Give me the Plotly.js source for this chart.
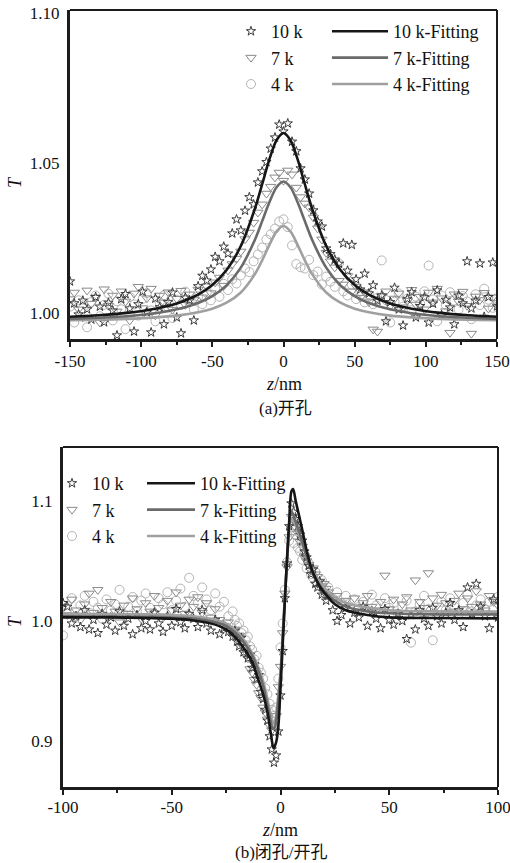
<!DOCTYPE html>
<html><head><meta charset="utf-8">
<script src="https://cdn.plot.ly/plotly-3.0.1.min.js"></script>
<style>html,body{margin:0;padding:0;background:#fff;}#chart{width:510px;height:863px;}</style>
</head><body><div id="chart"></div>
<script>
// ---------- (a) open aperture ----------
const zOpen = [-150,-147,-144,-141,-138,-135,-132,-129,-126,-123,
-120,-117,-114,-111,-108,-105,-102,-99,-96,-93,
-90,-87,-84,-81,-78,-75,-72,-69,-66,-63,
-60,-57,-54,-51,-48,-45,-42,-39,-36,-33,
-30,-27,-24,-21,-18,-15,-12,-9,-6,-3,
0,
3,6,9,12,15,18,21,24,27,30,
33,36,39,42,45,48,51,54,57,60,
63,66,69,72,75,78,81,84,87,90,
93,96,99,102,105,108,111,114,117,120,
123,126,129,132,135,138,141,144,147,150];
const open10k = [1.0105,1.0032,0.9995,1.0041,1.0012,0.9978,1.0053,1.0021,0.9969,1.0034,
1.0008,0.9925,1.0046,1.0063,1.0015,0.9938,1.0029,1.0071,1.0002,0.9935,
1.0048,1.0019,0.9962,1.0036,1.0068,0.9985,0.9932,1.0051,1.0042,0.9975,
1.0089,1.0124,1.0108,1.0145,1.0187,1.0172,1.0221,1.0198,1.0265,1.0312,
1.0275,1.0341,1.0386,1.0362,1.0435,1.0472,1.0503,1.0548,1.0585,1.0628,
1.0605,
1.0632,1.0571,1.0539,1.0482,1.0445,1.0398,1.0342,1.0305,1.0288,1.0215,
1.0196,1.0178,1.0164,1.0232,1.0141,1.0227,1.0112,1.0078,1.0131,1.0065,
1.0092,1.0041,1.0058,0.9972,1.0036,1.0084,1.0012,0.9958,1.0047,1.0069,
0.9985,1.0023,1.0052,0.9968,1.0031,1.0075,0.9992,1.0044,1.0018,0.9962,
1.0058,1.0032,1.0172,1.0015,1.0041,1.0165,0.9987,1.0053,1.0168,1.0022];
const open7k = [1.0046,1.0068,1.0012,0.9985,1.0075,1.0031,1.0052,0.9968,1.0079,1.0024,
1.0058,1.0005,1.0072,1.0038,0.9975,1.0065,1.0087,1.0016,1.0049,1.0081,
0.9992,1.0058,1.0035,1.0069,1.0011,1.0047,1.0074,1.0027,1.0062,1.0043,
1.0078,1.0052,1.0089,1.0066,1.0102,1.0118,1.0091,1.0142,1.0163,1.0181,
1.0205,1.0246,1.0268,1.0301,1.0335,1.0362,1.0398,1.0421,1.0452,1.0468,
1.0441,
1.0475,1.0462,1.0418,1.0386,1.0365,1.0352,1.0318,1.0282,1.0245,1.0201,
1.0172,1.0152,1.0107,1.0095,1.0123,1.0072,1.0088,1.0051,1.0069,1.0036,
0.9945,0.9938,1.0056,1.0072,1.0023,1.0048,1.0065,1.0019,1.0041,1.0077,
1.0028,1.0054,1.0012,1.0068,1.0035,1.0081,1.0049,1.0006,0.9934,1.0062,
1.0038,1.0071,1.0024,0.9931,1.0055,1.0043,1.0067,1.0015,1.0052,1.0033];
const open4k = [1.0021,0.9968,1.0042,1.0015,0.9952,1.0036,1.0058,0.9989,1.0027,1.0064,
0.9975,1.0039,1.0012,0.9946,1.0053,1.0028,0.9991,1.0047,1.0066,1.0008,
0.9972,1.0035,1.0059,1.0018,0.9983,1.0044,1.0026,1.0071,1.0038,1.0012,
1.0055,1.0029,1.0068,1.0042,1.0081,1.0054,1.0097,1.0076,1.0112,1.0098,
1.0125,1.0148,1.0136,1.0172,1.0195,1.0218,1.0245,1.0262,1.0281,1.0305,
1.0312,
1.0286,1.0225,1.0163,1.0152,1.0148,1.0177,1.0126,1.0138,1.0095,1.0121,
1.0104,1.0087,1.0165,1.0072,1.0058,1.0094,1.0046,1.0071,1.0035,1.0062,
1.0029,1.0051,1.0175,1.0043,0.9968,1.0037,1.0065,1.0021,1.0048,1.0009,
1.0054,1.0031,1.0072,1.0158,1.0045,0.9972,1.0058,1.0027,1.0069,1.0041,
1.0012,1.0056,1.0038,0.9979,1.0062,1.0026,1.0081,1.0044,1.0017,1.0049];
const zOpenFit = [-150,-130,-110,-90,-75,-60,-50,-40,-30,-20,-15,-10,-5,0,5,10,15,20,30,40,50,60,75,90,110,130,150];
const fitOpen10k = [0.9987,0.9992,1.0000,1.0014,1.0031,1.0061,1.0093,1.0143,1.0223,1.0349,1.0429,1.0511,1.0575,1.0600,1.0575,1.0511,1.0429,1.0349,1.0223,1.0143,1.0093,1.0061,1.0031,1.0014,1.0000,0.9992,0.9987];
const fitOpen7k = [0.9980,0.9984,0.9989,0.9999,1.0012,1.0033,1.0056,1.0092,1.0151,1.0245,1.0306,1.0368,1.0418,1.0438,1.0418,1.0368,1.0306,1.0245,1.0151,1.0092,1.0056,1.0033,1.0012,0.9999,0.9989,0.9984,0.9980];
const fitOpen4k = [0.9976,0.9977,0.9980,0.9985,0.9991,1.0002,1.0014,1.0034,1.0068,1.0130,1.0175,1.0226,1.0271,1.0290,1.0271,1.0226,1.0175,1.0130,1.0068,1.0034,1.0014,1.0002,0.9991,0.9985,0.9980,0.9977,0.9976];

// ---------- (b) closed / open ----------
const zClosed = [-100,-98,-96,-94,-92,-90,-88,-86,-84,-82,
-80,-78,-76,-74,-72,-70,-68,-66,-64,-62,
-60,-58,-56,-54,-52,-50,-48,-46,-44,-42,
-40,-38,-36,-34,-32,-30,-28,-26,-24,-22,
-21,-20,-19,-18,-17,-16,-15,-14,-13,-12,
-11,-10,-9,-8,-7,-6,-5,-4,-3,-2,
-1,0,1,2,3,4,5,6,7,8,
9,10,11,12,13,14,15,16,17,18,
19,20,21,22,24,26,28,30,32,34,
36,38,40,42,44,46,48,50,52,54,
56,58,60,62,64,66,68,70,72,74,
76,78,80,82,84,86,88,90,92,94,
96,98,100];
const closed10k = [1.015,1.012,0.998,1.004,0.995,1.009,0.993,1.001,0.990,1.006,
0.997,1.003,0.992,1.008,0.996,1.002,0.989,1.005,0.994,1.000,
0.993,1.007,0.998,0.991,1.004,0.996,1.010,0.999,0.994,1.006,
1.002,0.995,1.009,0.998,0.992,1.001,0.989,0.994,0.991,0.987,
0.992,0.983,0.979,0.986,0.974,0.978,0.969,0.972,0.961,0.964,
0.952,0.955,0.941,0.935,0.926,0.917,0.904,0.893,0.882,0.888,
0.908,0.938,0.975,1.019,1.048,1.079,1.098,1.091,1.085,1.079,
1.072,1.067,1.058,1.053,1.046,1.039,1.043,1.031,1.028,1.033,
1.022,1.025,1.017,1.021,1.009,1.000,1.005,1.011,0.998,1.007,
1.003,1.012,0.996,1.008,1.002,0.994,1.010,1.001,0.997,1.006,
1.000,0.985,1.005,0.993,1.009,1.002,0.996,1.011,1.004,0.998,
1.007,1.015,1.001,1.009,0.995,1.028,1.006,1.031,1.012,1.004,
0.994,1.018,1.003];
const closed7k = [1.012,1.005,1.018,1.009,1.001,1.014,1.023,1.007,1.026,1.011,
1.004,1.016,1.008,0.999,1.013,1.006,1.019,1.010,1.002,1.015,
1.008,1.021,1.011,1.004,1.017,1.009,1.024,1.013,1.006,1.018,
1.012,1.020,1.007,1.015,1.003,1.010,1.001,0.996,0.999,0.990,
0.993,0.986,0.988,0.981,0.978,0.972,0.969,0.960,0.957,0.951,
0.947,0.940,0.936,0.928,0.924,0.918,0.913,0.909,0.914,0.921,
0.945,0.962,0.990,1.023,1.045,1.070,1.087,1.084,1.078,1.073,
1.066,1.062,1.054,1.050,1.047,1.042,1.044,1.039,1.037,1.033,
1.029,1.031,1.027,1.024,1.018,1.021,1.014,1.017,1.011,1.019,
1.008,1.015,1.021,1.012,1.009,1.016,1.038,1.010,1.018,1.007,
1.014,1.020,1.009,1.034,1.016,1.011,1.040,1.019,1.013,1.022,
1.015,1.008,1.017,1.023,1.010,1.019,1.012,1.025,1.014,1.009,
1.021,1.016,1.013];
const closed4k = [0.988,1.010,1.019,1.004,1.013,1.021,1.007,1.016,1.011,1.002,
1.018,1.009,1.014,1.026,1.005,1.012,1.020,1.008,1.017,1.023,
1.011,1.006,1.019,1.014,1.024,1.009,1.017,1.027,1.012,1.036,
1.021,1.015,1.028,1.018,1.009,1.023,1.012,1.016,1.004,1.008,
1.001,0.996,0.998,0.990,0.992,0.984,0.987,0.979,0.976,0.968,
0.971,0.961,0.957,0.952,0.944,0.939,0.931,0.926,0.921,0.928,
0.952,0.978,0.998,1.026,1.049,1.067,1.078,1.065,1.072,1.061,
1.058,1.051,1.055,1.044,1.048,1.039,1.036,1.041,1.032,1.029,
1.034,1.026,1.022,1.028,1.019,1.024,1.015,1.021,1.012,1.018,
1.010,1.016,1.009,1.022,1.013,1.007,1.019,1.011,1.015,1.006,
1.012,1.017,0.982,1.008,1.014,1.021,1.010,0.984,1.005,1.016,
1.009,1.019,1.012,1.006,1.015,1.022,1.008,1.013,1.018,1.010,
1.016,1.011,1.020];
const zClosedFit10k = [-100,-80,-60,-50,-40,-30,-25,-20,-16,-13,-10,-8,-6,-4.5,-3.2,-2,-1,0,1,2,3,4,5,5.8,7,8.5,10,12,14,16,18,20,25,30,40,50,70,100];
const fitClosed10k = [1.003,1.003,1.0025,1.002,1.0005,0.997,0.993,0.985,0.975,0.966,0.950,0.939,0.924,0.907,0.894,0.899,0.912,0.944,0.980,1.016,1.052,1.083,1.108,1.110,1.100,1.088,1.076,1.059,1.045,1.036,1.029,1.024,1.014,1.009,1.005,1.003,1.0025,1.0022];
const zClosedFit = [-100,-60,-40,-30,-25,-20,-16,-13,-10.5,-8,-6,-4.5,-3.5,-2.5,-1.5,0,1,2,3,4,4.8,6,7.5,9,11,13,16,20,25,30,40,50,70,100];
const fitClosed7k = [1.004,1.0035,1.002,0.999,0.996,0.989,0.980,0.971,0.960,0.946,0.930,0.916,0.910,0.912,0.925,0.955,0.985,1.020,1.050,1.080,1.092,1.088,1.080,1.072,1.060,1.048,1.036,1.025,1.017,1.012,1.008,1.0065,1.0055,1.0055];
const fitClosed4k = [1.006,1.0055,1.004,1.001,0.998,0.991,0.982,0.973,0.963,0.950,0.935,0.922,0.915,0.917,0.930,0.958,0.988,1.020,1.050,1.075,1.086,1.083,1.077,1.069,1.059,1.049,1.038,1.028,1.020,1.015,1.011,1.009,1.008,1.0078];

const seriesNames = ['10 k','7 k','4 k'];
const fitNames = ['10 k-Fitting','7 k-Fitting','4 k-Fitting'];
const symbols = ['star-open','triangle-down-open','circle-open'];
const mColors = ['#3a3a3a','#8a8a8a','#b4b4b4'];
const mSizes = [7,9,9];
const lColors = ['#161616','#6a6a6a','#a0a0a0'];

const SERIF = '"Liberation Serif", "Times New Roman", "DejaVu Serif", serif';
const CJK = '"Liberation Serif", "Noto Sans CJK SC", serif';

function scat(x, y, i, xa, ya, leg) {
  return {type:'scatter', mode:'markers', x:x, y:y, name:seriesNames[i], xaxis:xa, yaxis:ya,
    legend:leg, legendgroup:leg+'m'+i, legendrank:i+1, showlegend:true,
    marker:{symbol:symbols[i], size:mSizes[i], color:mColors[i], line:{width:1, color:mColors[i]}},
    cliponaxis:true, hoverinfo:'skip'};
}
function fit(x, y, i, xa, ya, leg) {
  return {type:'scatter', mode:'lines', x:x, y:y, name:fitNames[i], xaxis:xa, yaxis:ya,
    legend:leg, legendgroup:leg+'l'+i, legendrank:i+1, showlegend:true,
    line:{color:lColors[i], width:2.6, shape:'spline', smoothing:0.8}, hoverinfo:'skip'};
}

const data = [
  scat(zOpen, open4k, 2, 'x', 'y', 'legend'),
  scat(zOpen, open7k, 1, 'x', 'y', 'legend'),
  scat(zOpen, open10k, 0, 'x', 'y', 'legend'),
  fit(zOpenFit, fitOpen4k, 2, 'x', 'y', 'legend2'),
  fit(zOpenFit, fitOpen7k, 1, 'x', 'y', 'legend2'),
  fit(zOpenFit, fitOpen10k, 0, 'x', 'y', 'legend2'),
  scat(zClosed, closed4k, 2, 'x2', 'y2', 'legend3'),
  scat(zClosed, closed7k, 1, 'x2', 'y2', 'legend3'),
  scat(zClosed, closed10k, 0, 'x2', 'y2', 'legend3'),
  fit(zClosedFit, fitClosed4k, 2, 'x2', 'y2', 'legend4'),
  fit(zClosedFit, fitClosed7k, 1, 'x2', 'y2', 'legend4'),
  fit(zClosedFit10k, fitClosed10k, 0, 'x2', 'y2', 'legend4')
];

const W = 510, H = 863;
const px = v => v / W, py = v => 1 - v / H;

const tickFont = {family:SERIF, size:17, color:'#111'};
function xax(domain, range, vals, minor, anchor, standoff) {
  return {domain:domain, range:range, anchor:anchor, showline:true, linewidth:3, linecolor:'#1c1c1c',
    showgrid:false, zeroline:false, ticks:'outside', ticklen:5, tickwidth:2, tickcolor:'#1c1c1c',
    tickmode:'array', tickvals:vals, ticktext:vals.map(String), tickfont:tickFont, ticklabelstandoff:standoff,
    ticklabeloverflow:'allow',
    minor:{tickvals:minor, ticks:'outside', ticklen:3, tickwidth:2, tickcolor:'#1c1c1c', showgrid:false}};
}
function yax(domain, range, vals, texts, anchor) {
  return {domain:domain, range:range, anchor:anchor, showline:true, linewidth:3, linecolor:'#1c1c1c',
    showgrid:false, zeroline:false, ticks:'', tickmode:'array', tickvals:vals, ticktext:texts,
    tickfont:tickFont, ticklabelstandoff:4};
}

const legFont = {family:SERIF, size:18, color:'#111'};
function leg(xp, ytop, iw) {
  return {x:px(xp), y:py(ytop), xanchor:'left', yanchor:'top', bgcolor:'rgba(0,0,0,0)', borderwidth:0,
    font:legFont, tracegroupgap:2, itemwidth:iw, orientation:'v', traceorder:'normal'};
}

function ann(text, x, y, font, angle) {
  return {text:text, x:px(x), y:py(y), xref:'paper', yref:'paper', xanchor:'center', yanchor:'middle',
    showarrow:false, textangle:angle || 0, font:font};
}

const layout = {
  width:W, height:H, margin:{l:0, r:0, t:0, b:0}, paper_bgcolor:'#fff', plot_bgcolor:'#fff',
  font:{family:SERIF, color:'#111'},
  xaxis: xax([px(70), px(497)], [-150,150], [-150,-100,-50,0,50,100,150], [-125,-75,-25,25,75,125], 'y', 0),
  yaxis: yax([py(339), py(10)], [0.9913,1.101], [1.00,1.05,1.10], ['1.00','1.05','1.10'], 'x'),
  xaxis2: xax([px(63), px(498)], [-100,100], [-100,-50,0,50,100], [-75,-25,25,75], 'y2', -2),
  yaxis2: yax([py(787), py(447)], [0.8617,1.145], [0.9,1.0,1.1], ['0.9','1.0','1.1'], 'x2'),
  legend: leg(231, 13, 30),
  legend2: leg(327, 13, 56),
  legend3: leg(52, 465, 30),
  legend4: leg(142, 465, 48),
  shapes: [
    {type:'line', xref:'x domain', yref:'y domain', x0:0, x1:1, y0:1, y1:1, line:{color:'#1c1c1c', width:2}},
    {type:'line', xref:'x domain', yref:'y domain', x0:1, x1:1, y0:0, y1:1, line:{color:'#1c1c1c', width:2}},
    {type:'line', xref:'x2 domain', yref:'y2 domain', x0:0, x1:1, y0:1, y1:1, line:{color:'#1c1c1c', width:2}},
    {type:'line', xref:'x2 domain', yref:'y2 domain', x0:1, x1:1, y0:0, y1:1, line:{color:'#1c1c1c', width:2}}
  ],
  annotations: [
    ann('<i>z</i>/nm', 284, 384, {family:SERIF, size:18, color:'#111'}),
    ann('(a)开孔', 285, 408, {family:CJK, size:17, color:'#111'}),
    ann('<i>T</i>', 15, 182, {family:SERIF, size:18, color:'#111'}, -90),
    ann('<i>z</i>/nm', 280, 830, {family:SERIF, size:18, color:'#111'}),
    ann('(b)闭孔/开孔', 281, 852, {family:CJK, size:17, color:'#111'}),
    ann('<i>T</i>', 15, 621, {family:SERIF, size:18, color:'#111'}, -90)
  ]
};

Plotly.newPlot('chart', data, layout, {staticPlot:true, displayModeBar:false});
</script>
</body></html>
